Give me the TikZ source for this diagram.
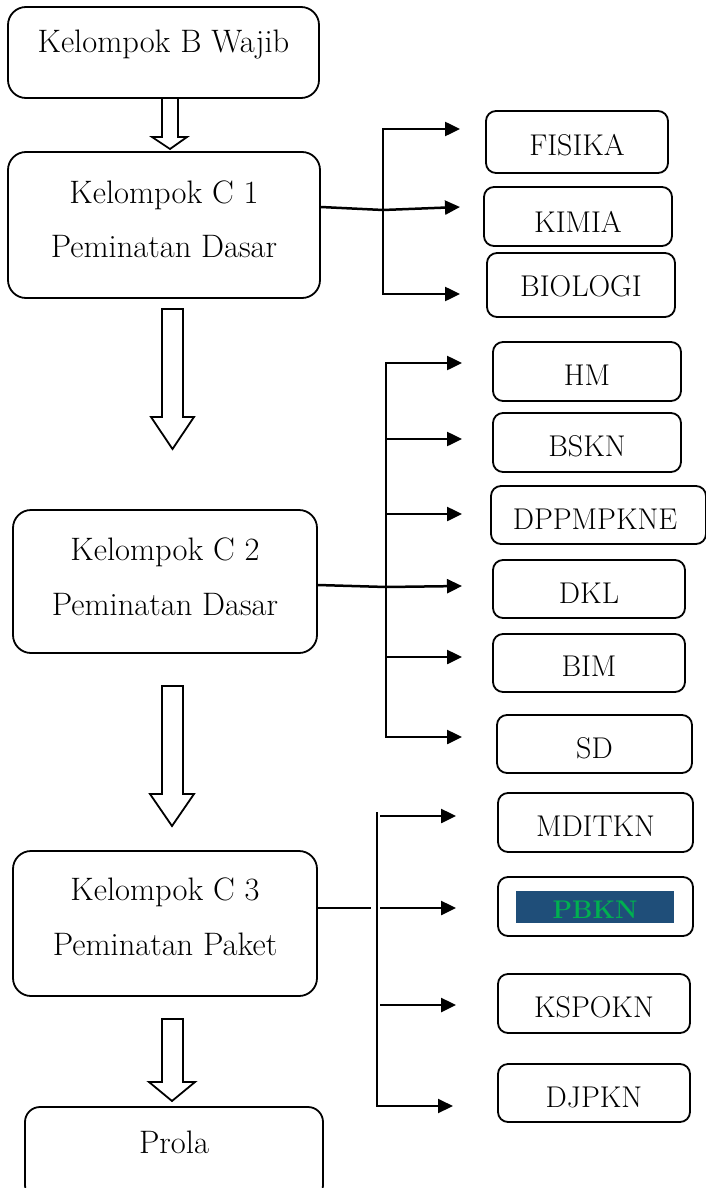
\documentclass[tikz,border=0pt]{standalone}
\usepackage{fontspec}
\usetikzlibrary{arrows.meta}
\definecolor{pbblue}{RGB}{31,78,121}
\definecolor{pbgreen}{RGB}{0,176,80}
\begin{document}
\begin{tikzpicture}[x=1pt,y=-1pt,
  bigbox/.style={draw, line width=1.8pt, rounded corners=18pt, inner sep=0pt},
  smallbox/.style={draw, line width=1.8pt, rounded corners=10pt, inner sep=0pt},
  bigtxt/.style={font=\fontsize{32.5}{38}\selectfont, inner sep=0pt, anchor=base},
  smalltxt/.style={font=\fontsize{30}{35}\selectfont, inner sep=0pt},
  conn/.style={line width=2.5pt},
  arr/.style={line width=2.5pt, -{Triangle[length=15pt,width=14pt]}},
  arrboth/.style={line width=2.5pt, {Triangle[length=15pt,width=14pt]}-{Triangle[length=15pt,width=14pt]}},
  hollow/.style={draw, line width=1.8pt, fill=white, line join=miter}
]
\useasboundingbox (0,0) rectangle (705,1188);

% main boxes
\node[bigbox, minimum width=311pt, minimum height=91pt] (B) at (163.5,52.5) {};
\node[bigtxt] (Bt) at ([yshift=0pt]B.center) {Kelompok B Wajib};

\node[bigbox, minimum width=312pt, minimum height=146pt] (C1) at (164,225) {};
\node[bigtxt] (C1a) at ([yshift=22pt]C1.center) {Kelompok C 1};
\node[bigtxt] (C1b) at ([yshift=-32pt]C1.center) {Peminatan Dasar};

\node[bigbox, minimum width=304pt, minimum height=143pt] (C2) at (165,581.5) {};
\node[bigtxt] (C2a) at ([yshift=21.5pt]C2.center) {Kelompok C 2};
\node[bigtxt] (C2b) at ([yshift=-33.5pt]C2.center) {Peminatan Dasar};

\node[bigbox, minimum width=304pt, minimum height=145pt] (C3) at (165,923.5) {};
\node[bigtxt] (C3a) at ([yshift=23.5pt]C3.center) {Kelompok C 3};
\node[bigtxt] (C3b) at ([yshift=-31.5pt]C3.center) {Peminatan Paket};

\node[bigbox, rounded corners=15pt, minimum width=298pt, minimum height=93pt] (P) at (174,1153.5) {};
\node[bigtxt] (Pt) at ([yshift=0pt]P.center) {Prola};

% hollow arrows
\draw[hollow] (162,98) -- (162,137) -- (152,137) -- (170,149) -- (187,137) -- (178,137) -- (178,98) -- cycle;
\draw[hollow] (162,309) -- (162,417) -- (151,417) -- (172.5,449) -- (194,417) -- (183,417) -- (183,309) -- cycle;
\draw[hollow] (162,686) -- (162,794) -- (150,794) -- (172,826) -- (194,794) -- (183,794) -- (183,686) -- cycle;
\draw[hollow] (162,1019) -- (162,1082) -- (149,1082) -- (172,1101) -- (195,1082) -- (183,1082) -- (183,1019) -- cycle;

% small boxes
\node[smallbox, minimum width=182pt, minimum height=62pt, label={[smalltxt,yshift=-3pt]center:FISIKA}] (FIS) at (577,142) {};
\node[smallbox, minimum width=188pt, minimum height=59pt, label={[smalltxt,yshift=-5pt]center:KIMIA}] (KIM) at (578,216.5) {};
\node[smallbox, minimum width=188pt, minimum height=64pt, label={[smalltxt,yshift=-1pt]center:BIOLOGI}] (BIO) at (581,285) {};

\node[smallbox, minimum width=188pt, minimum height=59pt, label={[smalltxt,yshift=-4pt]center:HM}] (HM) at (587,371.5) {};
\node[smallbox, minimum width=188pt, minimum height=59pt, label={[smalltxt,yshift=-4pt]center:BSKN}] (BSKN) at (587,442.5) {};
\node[smallbox, minimum width=215pt, minimum height=58pt, label={[smalltxt,xshift=-3.5pt,yshift=-4pt]center:DPPMPKNE}] (DPP) at (598.5,515) {};
\node[smallbox, minimum width=192pt, minimum height=58pt, label={[smalltxt,yshift=-4pt]center:DKL}] (DKL) at (589,589) {};
\node[smallbox, minimum width=192pt, minimum height=58pt, label={[smalltxt,yshift=-3.5pt]center:BIM}] (BIM) at (589,663) {};
\node[smallbox, minimum width=195pt, minimum height=58pt, label={[smalltxt,yshift=-4pt]center:SD}] (SD) at (594.5,744) {};

\node[smallbox, minimum width=195pt, minimum height=59pt, label={[smalltxt,yshift=-4pt]center:MDITKN}] (MDI) at (595.5,822.5) {};
\node[smallbox, minimum width=195pt, minimum height=59pt] (PB) at (595.5,906.5) {};
\node[fill=pbblue, text=pbgreen, font=\fontsize{25.5}{30}\bfseries\selectfont, inner sep=0pt, minimum width=158pt, minimum height=32pt, text height=23.5pt, text depth=0pt] (PBt) at (595,907) {PBKN};
\node[smallbox, minimum width=192pt, minimum height=59pt, label={[smalltxt,yshift=-4pt]center:KSPOKN}] (KSP) at (594,1003.5) {};
\node[smallbox, minimum width=192pt, minimum height=58pt, label={[smalltxt,yshift=-4.5pt]center:DJPKN}] (DJP) at (594,1093) {};

% branch 1
\coordinate (a1) at (460,129);
\coordinate (j1t) at (383,129);
\coordinate (j1m) at (383,210);
\coordinate (j1b) at (383,294);
\coordinate (a2) at (460,207);
\coordinate (a3) at (460,294);
\draw[arrboth] (a1) -- (j1t) -- (j1b) -- (a3);
\draw[arr] ([yshift=18pt]C1.east) -- (j1m) -- (a2);

% branch 2
\coordinate (j2t) at (386,363);
\coordinate (j2b) at (386,737);
\coordinate (b1) at (462,363);
\coordinate (b6) at (462,737);
\draw[arrboth] (b1) -- (j2t) -- (j2b) -- (b6);
\coordinate (j2a) at (386,439); \coordinate (b2) at (462,439);
\coordinate (j2c) at (386,514); \coordinate (b3) at (462,514);
\coordinate (j2d) at (386,587); \coordinate (b4) at (462,586);
\coordinate (j2e) at (386,657); \coordinate (b5) at (462,657);
\draw[arr] (j2a) -- (b2);
\draw[arr] (j2c) -- (b3);
\draw[arr] ([yshift=-3.5pt]C2.east) -- (j2d) -- (b4);
\draw[arr] (j2e) -- (b5);

% branch 3
\coordinate (j3t) at (377,812);
\coordinate (j3b) at (377,1106);
\coordinate (c4) at (453,1106);
\draw[line width=2pt, -{Triangle[length=15pt,width=14pt]}] (j3t) -- (j3b) -- (c4);
\coordinate (s1) at (380,816); \coordinate (c1) at (456,816);
\coordinate (s2) at (380,908); \coordinate (c2) at (456,908);
\coordinate (s3) at (380,1005); \coordinate (c3) at (456,1005);
\coordinate (g3) at (371,908);
\draw[arr] (s1) -- (c1);
\draw[arr] (s2) -- (c2);
\draw[arr] (s3) -- (c3);
\draw[line width=2pt] ([yshift=15.5pt]C3.east) -- (g3);
\end{tikzpicture}
\end{document}
